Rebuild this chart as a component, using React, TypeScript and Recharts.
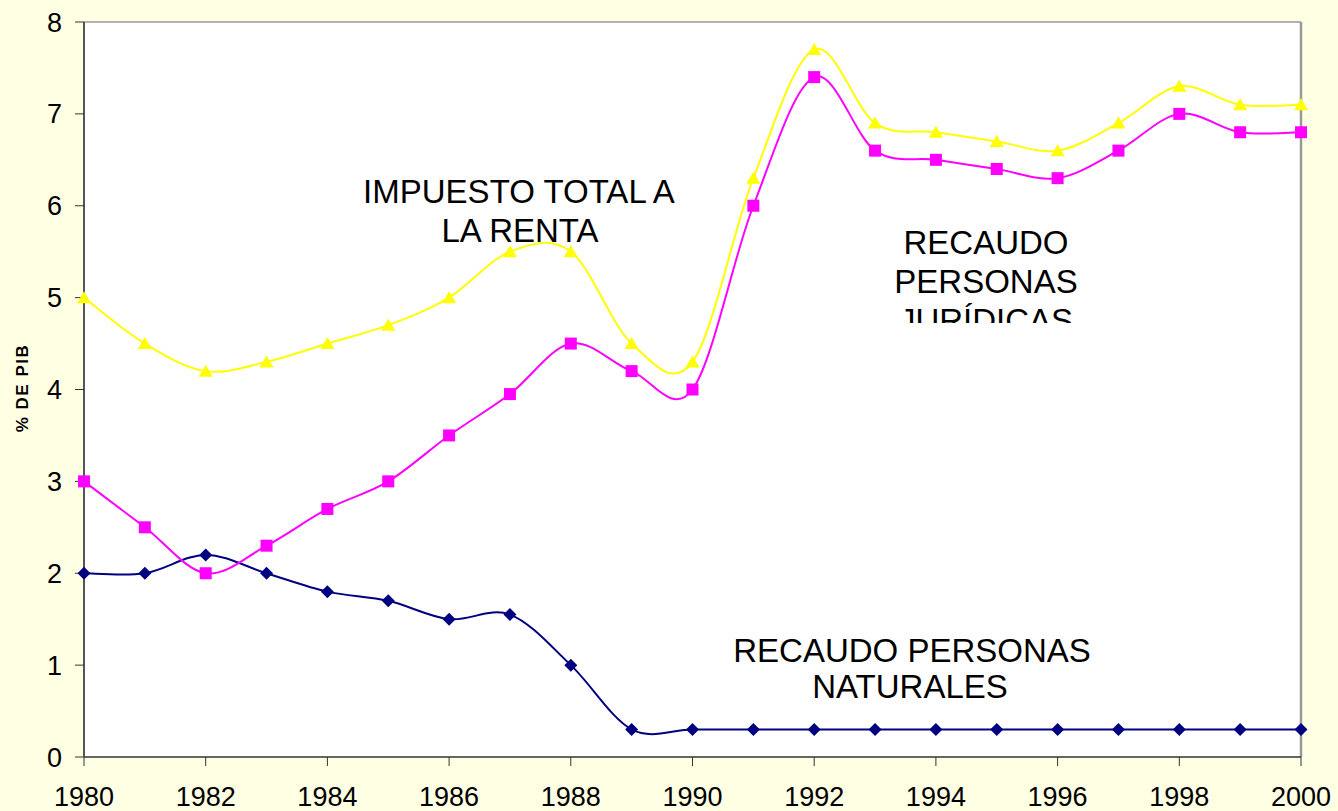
import React from 'react';
import { LineChart, Line, XAxis, YAxis, CartesianGrid, ReferenceLine } from 'recharts';

const years = [1980, 1981, 1982, 1983, 1984, 1985, 1986, 1987, 1988, 1989, 1990, 1991, 1992, 1993, 1994, 1995, 1996, 1997, 1998, 1999, 2000];
const impuestoTotal = [5.0, 4.5, 4.2, 4.3, 4.5, 4.7, 5.0, 5.5, 5.5, 4.5, 4.3, 6.3, 7.7, 6.9, 6.8, 6.7, 6.6, 6.9, 7.3, 7.1, 7.1];
const personasJuridicas = [3.0, 2.5, 2.0, 2.3, 2.7, 3.0, 3.5, 3.95, 4.5, 4.2, 4.0, 6.0, 7.4, 6.6, 6.5, 6.4, 6.3, 6.6, 7.0, 6.8, 6.8];
const personasNaturales = [2.0, 2.0, 2.2, 2.0, 1.8, 1.7, 1.5, 1.55, 1.0, 0.3, 0.3, 0.3, 0.3, 0.3, 0.3, 0.3, 0.3, 0.3, 0.3, 0.3, 0.3];
const xTicks = [1980, 1982, 1984, 1986, 1988, 1990, 1992, 1994, 1996, 1998, 2000];
const yTicks = [0, 1, 2, 3, 4, 5, 6, 7, 8];
const gridValues = [1, 2, 3, 4, 5, 6, 7];

const data = years.map((year, i) => ({
  year,
  total: impuestoTotal[i],
  juridicas: personasJuridicas[i],
  naturales: personasNaturales[i],
}));

const FONT = '"Liberation Sans", Arial, Helvetica, sans-serif';

// Excel-style smoothed line (Catmull-Rom / cardinal with tension 0)
const excelCurve = (context: any) => {
  let pts: number[][] = [];
  return {
    areaStart() {},
    areaEnd() {},
    lineStart() {
      pts = [];
    },
    point(x: number, y: number) {
      pts.push([+x, +y]);
    },
    lineEnd() {
      const n = pts.length;
      if (!n) return;
      context.moveTo(pts[0][0], pts[0][1]);
      for (let i = 0; i < n - 1; i++) {
        const p0 = pts[i - 1] || pts[i];
        const p1 = pts[i];
        const p2 = pts[i + 1];
        const p3 = pts[i + 2] || p2;
        context.bezierCurveTo(
          p1[0] + (p2[0] - p0[0]) / 6,
          p1[1] + (p2[1] - p0[1]) / 6,
          p2[0] - (p3[0] - p1[0]) / 6,
          p2[1] - (p3[1] - p1[1]) / 6,
          p2[0],
          p2[1]
        );
      }
    },
  };
};

const TriangleDot = (props: any) => {
  const { cx, cy, index } = props;
  if (cx == null || cy == null) return <g key={`t${index}`} />;
  return (
    <path
      key={`t${index}`}
      d={`M${cx},${cy - 6.5}L${cx + 7},${cy + 5.5}L${cx - 7},${cy + 5.5}Z`}
      fill="#FFFF00"
    />
  );
};

const SquareDot = (props: any) => {
  const { cx, cy, index } = props;
  if (cx == null || cy == null) return <g key={`s${index}`} />;
  return <rect key={`s${index}`} x={cx - 6} y={cy - 6} width={12} height={12} fill="#FF00FF" />;
};

const DiamondDot = (props: any) => {
  const { cx, cy, index } = props;
  if (cx == null || cy == null) return <g key={`d${index}`} />;
  return (
    <path
      key={`d${index}`}
      d={`M${cx},${cy - 6.5}L${cx + 6.5},${cy}L${cx},${cy + 6.5}L${cx - 6.5},${cy}Z`}
      fill="#000080"
    />
  );
};

export default function App() {
  const W = 1338;
  const H = 811;
  const textStyle: React.CSSProperties = { fontFamily: FONT, fontSize: 33 };
  return (
    <div style={{ position: 'absolute', left: 0, top: 0, width: W, height: H, background: '#FFFFE3', overflow: 'hidden' }}>
      <LineChart
        width={W}
        height={H}
        data={data}
        margin={{ top: 22, right: 37, left: 0, bottom: 0 }}
      >
        <rect x={84} y={22} width={1217} height={735} fill="#FFFFFF" />
        <CartesianGrid horizontal vertical={false} horizontalValues={gridValues} stroke="#333333" strokeWidth={1} fill="#FFFFFF" />
        <ReferenceLine y={8} stroke="#999999" strokeWidth={1.5} />
        <ReferenceLine x={2000} stroke="#999999" strokeWidth={2.5} />
        <XAxis
          dataKey="year"
          type="number"
          domain={[1980, 2000]}
          ticks={xTicks}
          height={54}
          tickSize={9}
          tickMargin={21}
          interval={0}
          axisLine={{ stroke: '#333333', strokeWidth: 1.5 }}
          tickLine={{ stroke: '#333333' }}
          tick={{ fill: '#000000', fontSize: 27, fontFamily: FONT }}
        />
        <YAxis
          type="number"
          domain={[0, 8]}
          ticks={yTicks}
          width={84}
          tickSize={9}
          tickMargin={13}
          interval={0}
          axisLine={{ stroke: '#555555', strokeWidth: 2 }}
          tickLine={{ stroke: '#333333' }}
          tick={{ fill: '#000000', fontSize: 27, fontFamily: FONT }}
        />
        <Line
          dataKey="naturales"
          type={excelCurve as any}
          stroke="#000080"
          strokeWidth={2}
          dot={DiamondDot}
          activeDot={false}
          isAnimationActive={false}
        />
        <Line
          dataKey="juridicas"
          type={excelCurve as any}
          stroke="#FF00FF"
          strokeWidth={2}
          dot={SquareDot}
          activeDot={false}
          isAnimationActive={false}
        />
        <Line
          dataKey="total"
          type={excelCurve as any}
          stroke="#FFFF00"
          strokeWidth={2}
          dot={TriangleDot}
          activeDot={false}
          isAnimationActive={false}
        />
      </LineChart>
      <svg
        width={W}
        height={H}
        style={{ position: 'absolute', left: 0, top: 0, pointerEvents: 'none' }}
      >
        <defs>
          <clipPath id="clipJur">
            <rect x={0} y={0} width={W} height={323} />
          </clipPath>
        </defs>
        <text
          x={28}
          y={388}
          textAnchor="middle"
          transform="rotate(-90, 28, 388)"
          style={{ fontFamily: FONT, fontSize: 17, fontWeight: 'bold', letterSpacing: 1.5 }}
          fill="#000000"
        >
          % DE PIB
        </text>
        <g fill="#000000" style={textStyle}>
          <text x={519} y={203} textAnchor="middle">IMPUESTO TOTAL A</text>
          <text x={520} y={242} textAnchor="middle">LA RENTA</text>
          <text x={986} y={254} textAnchor="middle">RECAUDO</text>
          <text x={986} y={293} textAnchor="middle">PERSONAS</text>
          <text x={986} y={332} textAnchor="middle" clipPath="url(#clipJur)">JURÍDICAS</text>
          <text x={912} y={662} textAnchor="middle">RECAUDO PERSONAS</text>
          <text x={910} y={698} textAnchor="middle">NATURALES</text>
        </g>
      </svg>
    </div>
  );
}
